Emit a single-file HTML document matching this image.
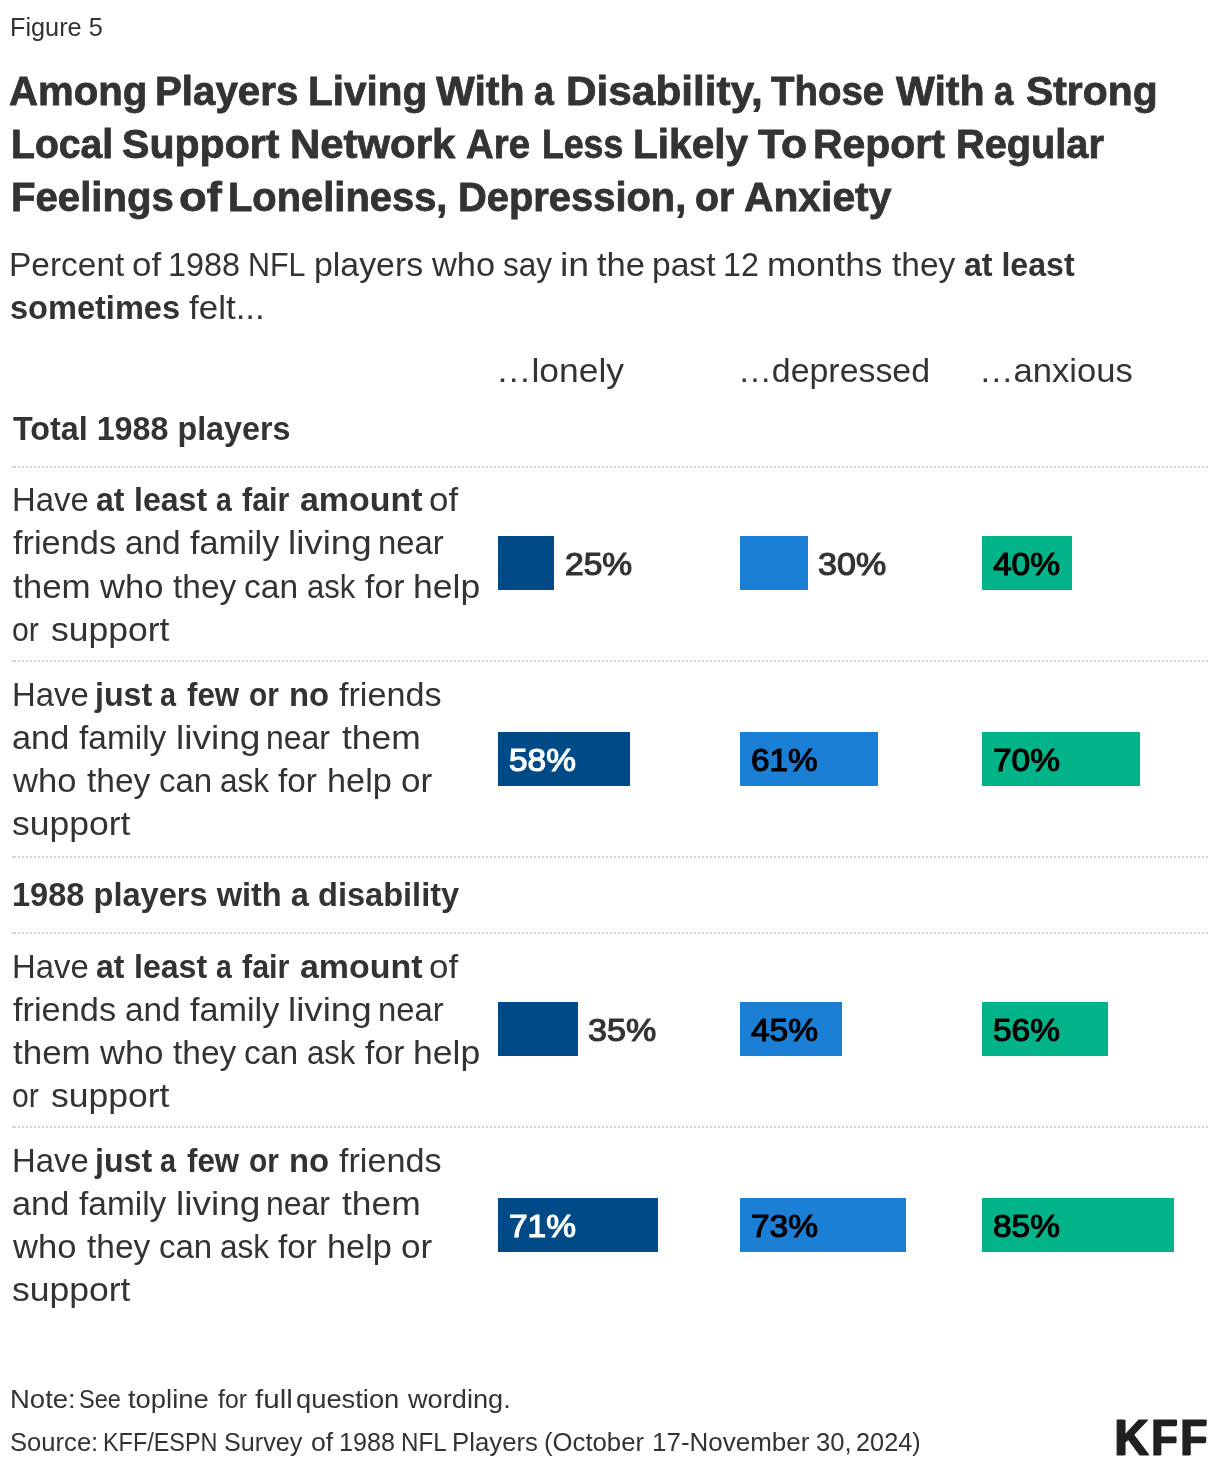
<!DOCTYPE html>
<html lang="en"><head><meta charset="utf-8"><title>Figure 5</title>
<style>
html,body{margin:0;padding:0;background:#fff}
body{width:1220px;height:1470px;position:relative;overflow:hidden;font-family:"Liberation Sans",sans-serif}
.title,.desc,.note,.source{margin:0;font-size:inherit;font-weight:inherit}
.t{display:block;position:absolute;white-space:nowrap;line-height:70px;height:70px;transform-origin:0 0}
.bar{position:absolute;height:54px}
.dl{position:absolute;left:14px;width:1194px;height:2px;background-image:repeating-linear-gradient(90deg,#d4d4d4 0 2px,transparent 2px 4px)}
.dl:before{content:'';position:absolute;left:-2px;top:0;width:2px;height:2px;background:#d4d4d4}
.c0{font-size:25px;font-weight:400;color:#333333;}
.c1{font-size:41px;font-weight:700;color:#333333;-webkit-text-stroke:0.8px #333333;}
.c2{font-size:34px;font-weight:400;color:#333333;}
.c3{font-size:34px;font-weight:700;color:#333333;}
.c4{font-size:31.4px;font-weight:400;color:#333333;-webkit-text-stroke-width:1.15px;}
.c5{font-size:31.4px;font-weight:400;color:#000000;-webkit-text-stroke-width:1.15px;}
.c6{font-size:31.4px;font-weight:400;color:#ffffff;-webkit-text-stroke-width:1.15px;}
.c7{font-size:50.6px;font-weight:700;color:#231f20;-webkit-text-stroke:1.2px #231f20;text-shadow:1.6px 0 0 #231f20;}
</style></head>
<body>
<div class="dl" style="top:466px"></div>
<div class="dl" style="top:660px"></div>
<div class="dl" style="top:856px"></div>
<div class="dl" style="top:932px"></div>
<div class="dl" style="top:1126px"></div>
<div class="bar" style="left:498px;top:536px;width:56px;background:#004b87"></div>
<div class="bar" style="left:740px;top:536px;width:68px;background:#1c7fd6"></div>
<div class="bar" style="left:982px;top:536px;width:90px;background:#00b388"></div>
<div class="bar" style="left:498px;top:732px;width:132px;background:#004b87"></div>
<div class="bar" style="left:740px;top:732px;width:138px;background:#1c7fd6"></div>
<div class="bar" style="left:982px;top:732px;width:158px;background:#00b388"></div>
<div class="bar" style="left:498px;top:1002px;width:80px;background:#004b87"></div>
<div class="bar" style="left:740px;top:1002px;width:102px;background:#1c7fd6"></div>
<div class="bar" style="left:982px;top:1002px;width:126px;background:#00b388"></div>
<div class="bar" style="left:498px;top:1198px;width:160px;background:#004b87"></div>
<div class="bar" style="left:740px;top:1198px;width:166px;background:#1c7fd6"></div>
<div class="bar" style="left:982px;top:1198px;width:192px;background:#00b388"></div>
<div class="figno">
<span class="t c0" style="left:9.98px;top:-8px;transform:scaleX(1.0112)">Figure 5</span></div>
<h1 class="title">
<span class="t c1" style="left:9.02px;top:56px;transform:scaleX(0.9783)">Among</span> 
<span class="t c1" style="left:155.03px;top:56px;transform:scaleX(0.9825)">Players</span> 
<span class="t c1" style="left:308.03px;top:56px;transform:scaleX(0.9872)">Living</span> 
<span class="t c1" style="left:436.25px;top:56px;transform:scaleX(1.0029)">With</span> 
<span class="t c1" style="left:534.13px;top:56px;transform:scaleX(0.8696)">a</span> 
<span class="t c1" style="left:565.94px;top:56px;transform:scaleX(1.0323)">Disability,</span> 
<span class="t c1" style="left:771.25px;top:56px;transform:scaleX(0.9375)">Those</span> 
<span class="t c1" style="left:895.75px;top:56px;transform:scaleX(1.0029)">With</span> 
<span class="t c1" style="left:994.15px;top:56px;transform:scaleX(0.8478)">a</span> 
<span class="t c1" style="left:1026.00px;top:56px;transform:scaleX(0.9961)">Strong</span> 
<span class="t c1" style="left:11.09px;top:109px;transform:scaleX(0.9539)">Local</span> 
<span class="t c1" style="left:121.50px;top:109px;transform:scaleX(1.0016)">Support</span> 
<span class="t c1" style="left:289.96px;top:109px;transform:scaleX(1.0219)">Network</span> 
<span class="t c1" style="left:466.06px;top:109px;transform:scaleX(0.9356)">Are</span> 
<span class="t c1" style="left:542.01px;top:109px;transform:scaleX(0.8694)">Less</span> 
<span class="t c1" style="left:632.52px;top:109px;transform:scaleX(0.9912)">Likely</span> 
<span class="t c1" style="left:758.00px;top:109px;transform:scaleX(1.0435)">To</span> 
<span class="t c1" style="left:812.50px;top:109px;transform:scaleX(0.9981)">Report</span> 
<span class="t c1" style="left:955.56px;top:109px;transform:scaleX(0.9685)">Regular</span> 
<span class="t c1" style="left:11.04px;top:162px;transform:scaleX(0.9785)">Feelings</span> 
<span class="t c1" style="left:179.39px;top:162px;transform:scaleX(1.1053)">of</span> 
<span class="t c1" style="left:228.05px;top:162px;transform:scaleX(0.9729)">Loneliness,</span> 
<span class="t c1" style="left:458.05px;top:162px;transform:scaleX(0.9728)">Depression,</span> 
<span class="t c1" style="left:694.54px;top:162px;transform:scaleX(0.9563)">or</span> 
<span class="t c1" style="left:744.01px;top:162px;transform:scaleX(0.9949)">Anxiety</span></h1>
<p class="desc">
<span class="t c2" style="left:9.05px;top:229px;transform:scaleX(0.9846)">Percent</span> 
<span class="t c2" style="left:132.22px;top:229px;transform:scaleX(1.0268)">of</span> 
<span class="t c2" style="left:168.40px;top:229px;transform:scaleX(0.9507)">1988</span> 
<span class="t c2" style="left:248.06px;top:229px;transform:scaleX(0.8958)">NFL</span> 
<span class="t c2" style="left:314.26px;top:229px;transform:scaleX(0.9953)">players</span> 
<span class="t c2" style="left:432.00px;top:229px;transform:scaleX(1.0123)">who</span> 
<span class="t c2" style="left:502.82px;top:229px;transform:scaleX(0.9279)">say</span> 
<span class="t c2" style="left:559.80px;top:229px;transform:scaleX(1.1023)">in</span> 
<span class="t c2" style="left:597.00px;top:229px;transform:scaleX(1.0163)">the</span> 
<span class="t c2" style="left:651.77px;top:229px;transform:scaleX(0.9879)">past</span> 
<span class="t c2" style="left:723.41px;top:229px;transform:scaleX(0.9470)">12</span> 
<span class="t c2" style="left:766.68px;top:229px;transform:scaleX(1.0347)">months</span> 
<span class="t c2" style="left:892.00px;top:229px;transform:scaleX(0.9844)">they</span> 
<span class="t c3" style="left:964.06px;top:229px;transform:scaleX(0.9440)">at least</span> 
<span class="t c3" style="left:10.29px;top:272px;transform:scaleX(0.9571)">sometimes</span> 
<span class="t c2" style="left:188.75px;top:272px;transform:scaleX(1.0282)">felt...</span></p>
<div class="colhead">
<span class="t c2" style="left:496.04px;top:335px;transform:scaleX(1.0424)">…lonely</span></div>
<div class="colhead">
<span class="t c2" style="left:738.02px;top:335px;transform:scaleX(0.9960)">…depressed</span></div>
<div class="colhead">
<span class="t c2" style="left:979.41px;top:335px;transform:scaleX(1.0172)">…anxious</span></div>
<div class="group">
<span class="t c3" style="left:13.00px;top:393px;transform:scaleX(0.9493)">Total 1988 players</span></div>
<div class="rowlabel">
<span class="t c2" style="left:12.10px;top:464px;transform:scaleX(0.9667)">Have</span> 
<span class="t c3" style="left:96.06px;top:464px;transform:scaleX(0.9397)">at</span> 
<span class="t c3" style="left:133.61px;top:464px;transform:scaleX(0.9433)">least</span> 
<span class="t c3" style="left:215.67px;top:464px;transform:scaleX(0.8333)">a</span> 
<span class="t c3" style="left:242.00px;top:464px;transform:scaleX(0.8962)">fair</span> 
<span class="t c3" style="left:299.50px;top:464px;transform:scaleX(0.9979)">amount</span> 
<span class="t c2" style="left:428.97px;top:464px;transform:scaleX(1.0268)">of</span> 
<span class="t c2" style="left:13.00px;top:507px;transform:scaleX(1.0099)">friends</span> 
<span class="t c2" style="left:124.77px;top:507px;transform:scaleX(0.9815)">and</span> 
<span class="t c2" style="left:190.00px;top:507px;transform:scaleX(1.0056)">family</span> 
<span class="t c2" style="left:287.84px;top:507px;transform:scaleX(1.0788)">living</span> 
<span class="t c2" style="left:378.07px;top:507px;transform:scaleX(0.9659)">near</span> 
<span class="t c2" style="left:13.00px;top:551px;transform:scaleX(1.0274)">them</span> 
<span class="t c2" style="left:100.00px;top:551px;transform:scaleX(1.0164)">who</span> 
<span class="t c2" style="left:173.00px;top:551px;transform:scaleX(0.9844)">they</span> 
<span class="t c2" style="left:244.01px;top:551px;transform:scaleX(0.9856)">can</span> 
<span class="t c2" style="left:306.59px;top:551px;transform:scaleX(0.9135)">ask</span> 
<span class="t c2" style="left:365.00px;top:551px;transform:scaleX(0.9936)">for</span> 
<span class="t c2" style="left:412.91px;top:551px;transform:scaleX(1.0451)">help</span> 
<span class="t c2" style="left:12.11px;top:594px;transform:scaleX(0.8879)">or</span> 
<span class="t c2" style="left:51.46px;top:594px;transform:scaleX(1.0446)">support</span></div>
<div class="rowlabel">
<span class="t c2" style="left:12.10px;top:659px;transform:scaleX(0.9667)">Have</span> 
<span class="t c3" style="left:95.45px;top:659px;transform:scaleX(0.9467)">just</span> 
<span class="t c3" style="left:160.40px;top:659px;transform:scaleX(0.8472)">a</span> 
<span class="t c3" style="left:187.00px;top:659px;transform:scaleX(0.9211)">few</span> 
<span class="t c3" style="left:249.12px;top:659px;transform:scaleX(0.8788)">or</span> 
<span class="t c3" style="left:289.32px;top:659px;transform:scaleX(0.9671)">no</span> 
<span class="t c2" style="left:338.50px;top:659px;transform:scaleX(1.0050)">friends</span> 
<span class="t c2" style="left:11.99px;top:702px;transform:scaleX(1.0093)">and</span> 
<span class="t c2" style="left:78.75px;top:702px;transform:scaleX(0.9831)">family</span> 
<span class="t c2" style="left:175.82px;top:702px;transform:scaleX(1.0890)">living</span> 
<span class="t c2" style="left:266.12px;top:702px;transform:scaleX(0.9394)">near</span> 
<span class="t c2" style="left:342.00px;top:702px;transform:scaleX(1.0411)">them</span> 
<span class="t c2" style="left:13.00px;top:745px;transform:scaleX(1.0164)">who</span> 
<span class="t c2" style="left:86.50px;top:745px;transform:scaleX(0.9844)">they</span> 
<span class="t c2" style="left:158.53px;top:745px;transform:scaleX(0.9712)">can</span> 
<span class="t c2" style="left:219.57px;top:745px;transform:scaleX(0.9279)">ask</span> 
<span class="t c2" style="left:278.00px;top:745px;transform:scaleX(0.9808)">for</span> 
<span class="t c2" style="left:327.48px;top:745px;transform:scaleX(1.0082)">help</span> 
<span class="t c2" style="left:400.97px;top:745px;transform:scaleX(1.0345)">or</span> 
<span class="t c2" style="left:12.46px;top:788px;transform:scaleX(1.0446)">support</span></div>
<div class="group">
<span class="t c3" style="left:11.58px;top:859px;transform:scaleX(0.9580)">1988 players with a disability</span></div>
<div class="rowlabel">
<span class="t c2" style="left:12.10px;top:931px;transform:scaleX(0.9667)">Have</span> 
<span class="t c3" style="left:96.06px;top:931px;transform:scaleX(0.9397)">at</span> 
<span class="t c3" style="left:133.61px;top:931px;transform:scaleX(0.9433)">least</span> 
<span class="t c3" style="left:215.67px;top:931px;transform:scaleX(0.8333)">a</span> 
<span class="t c3" style="left:242.00px;top:931px;transform:scaleX(0.8962)">fair</span> 
<span class="t c3" style="left:299.50px;top:931px;transform:scaleX(0.9979)">amount</span> 
<span class="t c2" style="left:428.97px;top:931px;transform:scaleX(1.0268)">of</span> 
<span class="t c2" style="left:13.00px;top:974px;transform:scaleX(1.0099)">friends</span> 
<span class="t c2" style="left:124.77px;top:974px;transform:scaleX(0.9815)">and</span> 
<span class="t c2" style="left:190.00px;top:974px;transform:scaleX(1.0056)">family</span> 
<span class="t c2" style="left:287.84px;top:974px;transform:scaleX(1.0788)">living</span> 
<span class="t c2" style="left:378.07px;top:974px;transform:scaleX(0.9659)">near</span> 
<span class="t c2" style="left:13.00px;top:1017px;transform:scaleX(1.0274)">them</span> 
<span class="t c2" style="left:100.00px;top:1017px;transform:scaleX(1.0164)">who</span> 
<span class="t c2" style="left:173.00px;top:1017px;transform:scaleX(0.9844)">they</span> 
<span class="t c2" style="left:244.01px;top:1017px;transform:scaleX(0.9856)">can</span> 
<span class="t c2" style="left:306.59px;top:1017px;transform:scaleX(0.9135)">ask</span> 
<span class="t c2" style="left:365.00px;top:1017px;transform:scaleX(0.9936)">for</span> 
<span class="t c2" style="left:412.91px;top:1017px;transform:scaleX(1.0451)">help</span> 
<span class="t c2" style="left:12.11px;top:1060px;transform:scaleX(0.8879)">or</span> 
<span class="t c2" style="left:51.46px;top:1060px;transform:scaleX(1.0446)">support</span></div>
<div class="rowlabel">
<span class="t c2" style="left:12.10px;top:1125px;transform:scaleX(0.9667)">Have</span> 
<span class="t c3" style="left:95.45px;top:1125px;transform:scaleX(0.9467)">just</span> 
<span class="t c3" style="left:160.40px;top:1125px;transform:scaleX(0.8472)">a</span> 
<span class="t c3" style="left:187.00px;top:1125px;transform:scaleX(0.9211)">few</span> 
<span class="t c3" style="left:249.12px;top:1125px;transform:scaleX(0.8788)">or</span> 
<span class="t c3" style="left:289.32px;top:1125px;transform:scaleX(0.9671)">no</span> 
<span class="t c2" style="left:338.50px;top:1125px;transform:scaleX(1.0050)">friends</span> 
<span class="t c2" style="left:11.99px;top:1168px;transform:scaleX(1.0093)">and</span> 
<span class="t c2" style="left:78.75px;top:1168px;transform:scaleX(0.9831)">family</span> 
<span class="t c2" style="left:175.82px;top:1168px;transform:scaleX(1.0890)">living</span> 
<span class="t c2" style="left:266.12px;top:1168px;transform:scaleX(0.9394)">near</span> 
<span class="t c2" style="left:342.00px;top:1168px;transform:scaleX(1.0411)">them</span> 
<span class="t c2" style="left:13.00px;top:1211px;transform:scaleX(1.0164)">who</span> 
<span class="t c2" style="left:86.50px;top:1211px;transform:scaleX(0.9844)">they</span> 
<span class="t c2" style="left:158.53px;top:1211px;transform:scaleX(0.9712)">can</span> 
<span class="t c2" style="left:219.57px;top:1211px;transform:scaleX(0.9279)">ask</span> 
<span class="t c2" style="left:278.00px;top:1211px;transform:scaleX(0.9808)">for</span> 
<span class="t c2" style="left:327.48px;top:1211px;transform:scaleX(1.0082)">help</span> 
<span class="t c2" style="left:400.97px;top:1211px;transform:scaleX(1.0345)">or</span> 
<span class="t c2" style="left:12.46px;top:1254px;transform:scaleX(1.0446)">support</span></div>
<p class="note">
<span class="t c0" style="left:9.80px;top:1364px;transform:scaleX(1.1000)">Note:</span> 
<span class="t c0" style="left:79.06px;top:1364px;transform:scaleX(0.9405)">See</span> 
<span class="t c0" style="left:128.00px;top:1364px;transform:scaleX(1.0959)">topline</span> 
<span class="t c0" style="left:217.50px;top:1364px;transform:scaleX(0.9914)">for</span> 
<span class="t c0" style="left:254.50px;top:1364px;transform:scaleX(1.1833)">full</span> 
<span class="t c0" style="left:296.41px;top:1364px;transform:scaleX(1.0924)">question</span> 
<span class="t c0" style="left:407.50px;top:1364px;transform:scaleX(1.0870)">wording.</span></p>
<p class="source">
<span class="t c0" style="left:10.23px;top:1407px;transform:scaleX(1.0241)">Source:</span> 
<span class="t c0" style="left:103.13px;top:1407px;transform:scaleX(0.9364)">KFF/ESPN</span> 
<span class="t c0" style="left:223.99px;top:1407px;transform:scaleX(1.0065)">Survey</span> 
<span class="t c0" style="left:311.44px;top:1407px;transform:scaleX(1.0625)">of</span> 
<span class="t c0" style="left:339.24px;top:1407px;transform:scaleX(1.0047)">1988</span> 
<span class="t c0" style="left:401.07px;top:1407px;transform:scaleX(0.9659)">NFL</span> 
<span class="t c0" style="left:451.69px;top:1407px;transform:scaleX(1.0312)">Players</span> 
<span class="t c0" style="left:543.97px;top:1407px;transform:scaleX(1.0286)">(October</span> 
<span class="t c0" style="left:651.67px;top:1407px;transform:scaleX(1.0386)">17-November</span> 
<span class="t c0" style="left:816.23px;top:1407px;transform:scaleX(1.0234)">30,</span> 
<span class="t c0" style="left:855.99px;top:1407px;transform:scaleX(1.0123)">2024)</span></p>
<div class="val">
<span class="t c4" style="left:564.73px;top:530px;transform:scaleX(1.0689)">25%</span></div>
<div class="val">
<span class="t c4" style="left:817.71px;top:530px;transform:scaleX(1.0852)">30%</span></div>
<div class="val">
<span class="t c5" style="left:992.90px;top:530px;transform:scaleX(1.0661)">40%</span></div>
<div class="val">
<span class="t c6" style="left:509.04px;top:726px;transform:scaleX(1.0639)">58%</span></div>
<div class="val">
<span class="t c5" style="left:751.24px;top:726px;transform:scaleX(1.0607)">61%</span></div>
<div class="val">
<span class="t c5" style="left:992.93px;top:726px;transform:scaleX(1.0656)">70%</span></div>
<div class="val">
<span class="t c4" style="left:587.71px;top:996px;transform:scaleX(1.0852)">35%</span></div>
<div class="val">
<span class="t c5" style="left:750.90px;top:996px;transform:scaleX(1.0661)">45%</span></div>
<div class="val">
<span class="t c5" style="left:993.04px;top:996px;transform:scaleX(1.0639)">56%</span></div>
<div class="val">
<span class="t c6" style="left:508.93px;top:1192px;transform:scaleX(1.0656)">71%</span></div>
<div class="val">
<span class="t c5" style="left:750.93px;top:1192px;transform:scaleX(1.0656)">73%</span></div>
<div class="val">
<span class="t c5" style="left:993.04px;top:1192px;transform:scaleX(1.0639)">85%</span></div>
<div class="logo">
<span class="t c7" style="left:1114.18px;top:1403px;transform:scaleX(0.9412)">K</span>
<span class="t c7" style="left:1150.94px;top:1403px;transform:scaleX(0.8536)">F</span>
<span class="t c7" style="left:1180.10px;top:1403px;transform:scaleX(0.8679)">F</span>
</div>
</body></html>
